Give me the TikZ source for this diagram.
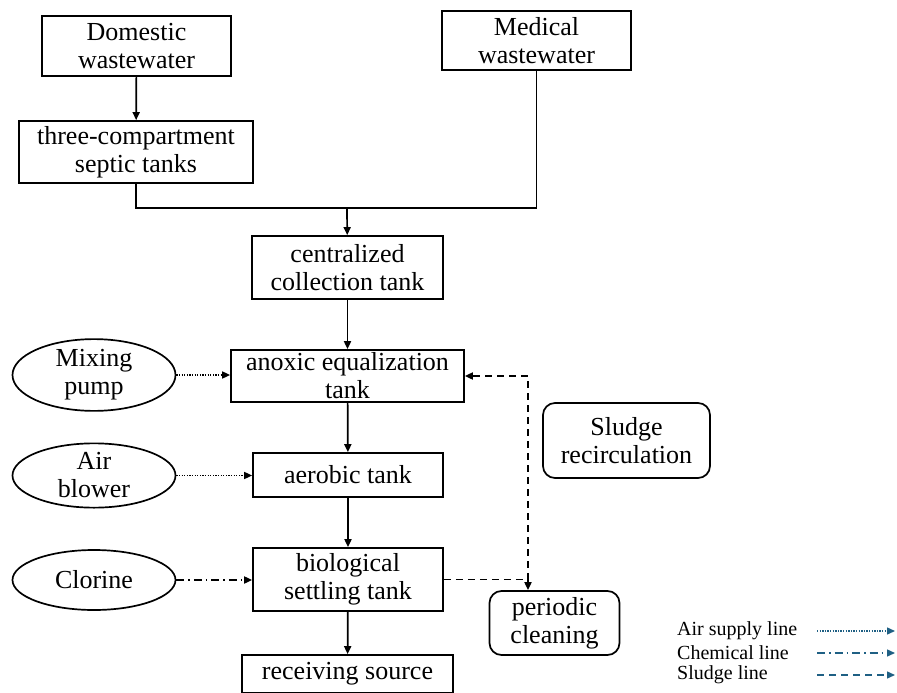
\documentclass[tikz,border=0pt]{standalone}
\usepackage{fontspec}
\setmainfont{Liberation Serif}
\usepackage{tikz}
\usetikzlibrary{shapes.geometric, arrows.meta, positioning, calc}
\usepackage{xcolor}
\definecolor{legblue}{RGB}{31, 96, 132}

\begin{document}
\begin{tikzpicture}[x=1pt, y=-1pt,
  tank/.style={draw, line width=1.7pt, rectangle, inner sep=0pt, align=center,
    font=\fontsize{26}{28}\selectfont},
  source/.style={draw, line width=1.7pt, ellipse, inner sep=0pt, align=center,
    font=\fontsize{26}{28}\selectfont},
  roundbox/.style={draw, line width=1.7pt, rounded corners=12pt, inner sep=0pt, align=center,
    font=\fontsize{26}{28}\selectfont},
  flow/.style={line width=1.7pt, -{Triangle[length=8pt, width=7pt]}},
  airline/.style={line width=1.6pt, dash pattern=on 1.3pt off 1.3pt, -{Triangle[length=8pt, width=7pt]}},
  chemline/.style={line width=1.7pt, dash pattern=on 8pt off 4pt on 1.5pt off 4pt, -{Triangle[length=8pt, width=7pt]}},
  sludgeline/.style={line width=1.7pt, dash pattern=on 7pt off 5pt},
  legtext/.style={anchor=west, inner sep=0pt, font=\fontsize{20}{22}\selectfont}]
  % 统一边界框
  \useasboundingbox (0,0) rectangle (897,693);

  % 进水
  \node[tank, minimum width=189pt, minimum height=60pt] (dom) at (136.5,46) {Domestic\\wastewater};
  \node[tank, minimum width=234pt, minimum height=62pt] (septic) at (136,152) {three-compartment\\septic tanks};
  \node[tank, minimum width=189pt, minimum height=59pt] (med) at (536.5,40.5) {Medical\\wastewater};

  % 主流程
  \node[tank, minimum width=191pt, minimum height=63pt] (central) at (347.5,267.5) {centralized\\collection tank};
  \node[tank, minimum width=233pt, minimum height=52pt] (anoxic) at (347.5,376) {anoxic equalization\\tank};
  \node[tank, minimum width=190pt, minimum height=44pt] (aerobic) at (348,475) {aerobic tank};
  \node[tank, minimum width=190pt, minimum height=63pt] (settle) at (348,579.5) {biological\\settling tank};
  \node[tank, minimum width=211pt, minimum height=38pt] (recv) at (347.5,674) {receiving source};

  % 左侧设备
  \node[source, minimum width=163pt, minimum height=60pt] (mix) at (94,375) {Mixing\\pump};
  \node[source, minimum width=163pt, minimum height=63pt] (blower) at (94,475.5) {Air\\blower};
  \node[source, minimum width=163pt, minimum height=60pt] (clor) at (94,580) {Clorine};

  % 右侧
  \node[roundbox, minimum width=167pt, minimum height=75pt] (recirc) at (626.5,440.5) {Sludge\\recirculation};
  \node[roundbox, minimum width=130pt, minimum height=64pt] (clean) at (554.5,623) {periodic\\cleaning};

  % 汇流
  \coordinate (jn) at (347,208);
  \draw[flow] (dom) -- (septic);
  \draw[line width=1.7pt] (septic.south) -- (septic.south |- jn) -- (med.south |- jn) -- (med.south);
  \draw[flow] (jn) -- (central);
  \draw[flow] (central) -- (anoxic);
  \draw[flow] (anoxic) -- (aerobic);
  \draw[flow] (aerobic) -- (settle);
  \draw[flow] (settle) -- (recv);

  % 曝气与加药
  \draw[airline] (mix) -- (mix -| anoxic.west);
  \draw[airline] (blower) -- (blower -| aerobic.west);
  \draw[chemline] (clor) -- (clor -| settle.west);

  % 污泥线
  \coordinate (rx) at (528,579.5);
  \draw[sludgeline] (settle.east) -- (rx);
  \draw[sludgeline, -{Triangle[length=8pt, width=7pt]}] (rx) -- (rx |- clean.north);
  \draw[sludgeline, -{Triangle[length=8pt, width=7pt]}] (rx) |- (anoxic.east);

  % 图例
  \node[legtext] (lgair) at (677,631) {Air supply line};
  \node[legtext] (lgchem) at (677,653) {Chemical line};
  \node[legtext] (lgsludge) at (677,675) {Sludge line};
  \coordinate (la) at (817,631);
  \coordinate (lc) at (817,653);
  \coordinate (ls) at (817,675);
  \draw[airline, legblue, line width=1.4pt] (la) -- ++(78,0);
  \draw[chemline, legblue, line width=1.4pt] (lc) -- ++(78,0);
  \draw[sludgeline, legblue, line width=1.4pt, -{Triangle[length=8pt, width=7pt]}] (ls) -- ++(78,0);
\end{tikzpicture}
\end{document}
